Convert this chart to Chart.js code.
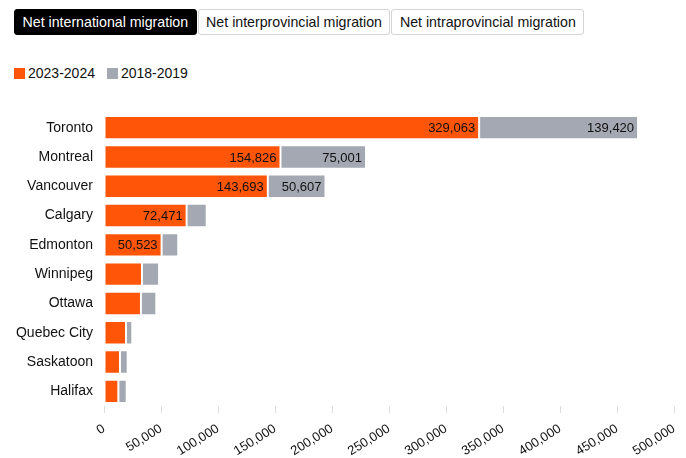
<!DOCTYPE html>
<html>
<head>
<meta charset="utf-8">
<script src="https://cdn.jsdelivr.net/npm/chart.js@4/dist/chart.umd.min.js"></script>
<style>
  html, body { margin: 0; padding: 0; background: #fff; }
  body { width: 686px; height: 458px; position: relative; overflow: hidden;
         font-family: "Liberation Sans", Arial, Helvetica, sans-serif; color: #111; }
  .tabs { position: absolute; left: 14px; top: 9px; display: flex; gap: 1px; }
  .tab { box-sizing: border-box; height: 26px; padding: 0 7.5px; font-size: 14.2px; line-height: 24px;
         border: 1px solid #d4d4d4; border-radius: 3px; background: #fff; color: #111; white-space: nowrap; }
  .tab.active { background: #000; border-color: #000; color: #fff; }
  .legend { position: absolute; left: 14px; top: 65px; display: flex; gap: 12px; font-size: 14px; line-height: 16px; }
  .legend span.item { display: flex; align-items: center; }
  .legend i { display: inline-block; width: 11px; height: 11px; margin-right: 3px; }
  .wrap { position: absolute; left: 0; top: 90px; width: 686px; height: 368px; }
</style>
</head>
<body>
<div class="tabs">
  <div class="tab active">Net international migration</div>
  <div class="tab">Net interprovincial migration</div>
  <div class="tab">Net intraprovincial migration</div>
</div>
<div class="legend" id="legend"></div>
<div class="wrap"><canvas id="chart"></canvas></div>
<script>
// Census metropolitan areas, largest net international migration first
const cities = ["Toronto", "Montreal", "Vancouver", "Calgary", "Edmonton",
                "Winnipeg", "Ottawa", "Quebec City", "Saskatoon", "Halifax"];
const migration2023 = [329063, 154826, 143693, 72471, 50523, 33300, 32400, 19300, 14000, 12600];
const migration2018 = [139420, 75001, 50607, 17600, 14600, 15000, 13500, 5500, 6800, 7300];
const seriesLabels = ["2023-2024", "2018-2019"];
const seriesColors = ["#ff5508", "#a3a8b2"];
const xTicks = [0, 50000, 100000, 150000, 200000, 250000, 300000, 350000, 400000, 450000, 500000];

const fmt = v => v.toLocaleString("en-US");

// HTML legend built from the series
document.getElementById("legend").innerHTML = seriesLabels.map((l, i) =>
  `<span class="item"><i style="background:${seriesColors[i]}"></i>${l}</span>`).join("");

// Value labels drawn inside the end of each bar segment when they fit
const barValueLabels = {
  id: "barValueLabels",
  afterDatasetsDraw(chart) {
    const ctx = chart.ctx;
    ctx.save();
    ctx.font = '13px "Liberation Sans", Arial, sans-serif';
    ctx.fillStyle = "#111";
    ctx.textAlign = "right";
    ctx.textBaseline = "middle";
    chart.data.datasets.forEach((ds, di) => {
      const meta = chart.getDatasetMeta(di);
      meta.data.forEach((bar, i) => {
        const txt = fmt(ds.data[i]);
        const w = Math.abs(bar.x - bar.base);
        if (w > ctx.measureText(txt).width + 10) {
          ctx.fillText(txt, bar.x - 4, bar.y + 1);
        }
      });
    });
    ctx.restore();
  }
};

new Chart(document.getElementById("chart"), {
  type: "bar",
  data: {
    labels: cities,
    datasets: seriesLabels.map((l, i) => ({
      label: l,
      data: i === 0 ? migration2023 : migration2018,
      backgroundColor: seriesColors[i],
      borderColor: "rgba(255,255,255,0.85)",
      borderWidth: 1,
      borderSkipped: false,
      barPercentage: 1,
      categoryPercentage: 0.8
    }))
  },
  options: {
    indexAxis: "y",
    responsive: true,
    maintainAspectRatio: false,
    animation: false,
    layout: { padding: { left: 14, right: 4, top: 23, bottom: 0 } },
    plugins: { legend: { display: false }, tooltip: { enabled: false } },
    scales: {
      x: {
        stacked: true,
        min: 0,
        max: 500000,
        afterBuildTicks(axis) { axis.ticks = xTicks.map(v => ({ value: v })); },
        afterFit(axis) { axis.height = 52; axis.paddingLeft = 0; axis.paddingRight = 12; },
        border: { display: false },
        grid: { drawOnChartArea: false, drawTicks: true, tickLength: 7, color: "#dedede" },
        ticks: {
          minRotation: 32, maxRotation: 32, padding: 8,
          color: "#111",
          font: { family: '"Liberation Sans", Arial, sans-serif', size: 13 },
          callback: v => fmt(v)
        }
      },
      y: {
        stacked: true,
        border: { display: false },
        grid: { display: false, drawTicks: false },
        afterFit(axis) { axis.width = 90; },
        ticks: {
          padding: 11,
          color: "#111",
          font: { family: '"Liberation Sans", Arial, sans-serif', size: 14 }
        }
      }
    }
  },
  plugins: [barValueLabels]
});
</script>
</body>
</html>
